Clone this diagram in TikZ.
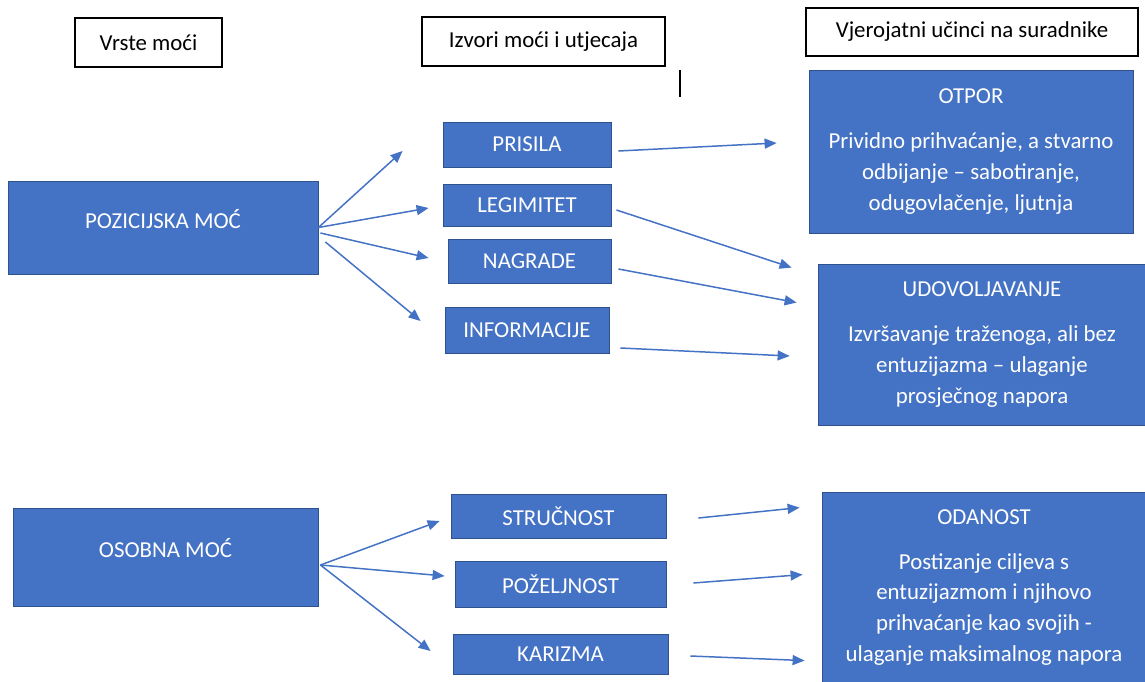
\documentclass[tikz,border=0pt]{standalone}
\usepackage{fontspec}
\setmainfont{Carlito}
\usetikzlibrary{arrows.meta,calc}
\definecolor{boxblue}{HTML}{4472C4}
\definecolor{boxedge}{HTML}{2F528F}
\begin{document}
\begin{tikzpicture}[x=0.02cm,y=-0.02cm,
  font=\fontsize{13}{17.6}\selectfont,
  hdr/.style={draw=black,line width=0.8pt,fill=white,text=black,inner sep=0pt},
  bluebox/.style={draw=boxedge,line width=0.5pt,fill=boxblue,text=white,inner sep=0pt,align=center},
  arr/.style={draw=boxblue,line width=0.85pt,-{Triangle[length=0.24cm,width=0.2cm]}}
]
\useasboundingbox (0,0) rectangle (1145,682);
% headers
\node[hdr,minimum width=2.94cm,minimum height=0.98cm] (vrste) at (148.5,42.5) {Vrste moći};
\node[hdr,minimum width=4.86cm,minimum height=0.98cm] (izvori) at (543.5,41.5) {Izvori moći i utjecaja};
\node[hdr,minimum width=6.64cm,minimum height=0.96cm] (ucinci) at (972,32) {Vjerojatni učinci na suradnike};
\coordinate (vl1) at (680,70);
\coordinate (vl2) at (680,97);
\draw[line width=0.8pt] (vl1) -- (vl2);
% left
\node[bluebox,minimum width=6.2cm,minimum height=1.86cm,text depth=0.36cm] (poz) at (163,227.5) {POZICIJSKA MOĆ};
\node[bluebox,minimum width=6.1cm,minimum height=1.96cm,text depth=0.36cm] (osob) at (165.5,557) {OSOBNA MOĆ};
% middle
\node[bluebox,minimum width=3.36cm,minimum height=0.9cm] (prisila) at (527,144.5) {PRISILA};
\node[bluebox,minimum width=3.36cm,minimum height=0.84cm] (legim) at (527,205) {LEGIMITET};
\node[bluebox,minimum width=3.26cm,minimum height=0.88cm] (nagrade) at (529.5,261) {NAGRADE};
\node[bluebox,minimum width=3.28cm,minimum height=0.92cm] (inform) at (527,330) {INFORMACIJE};
\node[bluebox,minimum width=4.3cm,minimum height=0.88cm] (struc) at (558.5,516) {STRUČNOST};
\node[bluebox,minimum width=4.22cm,minimum height=0.92cm] (pozelj) at (560.5,584) {POŽELJNOST};
\node[bluebox,minimum width=4.3cm,minimum height=0.8cm] (kariz) at (560.5,654) {KARIZMA};
% right
\node[bluebox,minimum width=6.48cm,minimum height=3.26cm] (otpor) at (971,151.5)
  {OTPOR\\[0.28cm]Prividno prihvaćanje, a stvarno\\odbijanje -- sabotiranje,\\odugovlačenje, ljutnja};
\node[bluebox,minimum width=6.56cm,minimum height=3.22cm] (udov) at (982,344.5)
  {UDOVOLJAVANJE\\[0.28cm]Izvršavanje traženoga, ali bez\\entuzijazma -- ulaganje\\prosječnog napora};
\node[bluebox,minimum width=6.48cm,minimum height=3.82cm] (odan) at (984,587.5)
  {ODANOST\\[0.28cm]Postizanje ciljeva s\\entuzijazmom i njihovo\\prihvaćanje kao svojih -\\ulaganje maksimalnog napora};
% arrows from POZICIJSKA MOĆ
\draw[arr] (poz.east) -- ($(prisila.west)+(-40,6.5)$);
\draw[arr] (poz.east) -- ($(legim.west)+(-14,3)$);
\draw[arr] ($(poz.east)+(2,5.5)$) -- ($(nagrade.west)+(-19,-3)$);
\draw[arr] ($(poz.east)+(7,14.5)$) -- ($(inform.west)+(-24,-9)$);
% arrows to effects (top)
\draw[arr] ($(prisila.east)+(7,6.5)$) -- ($(otpor.west)+(-32,-8.5)$);
\draw[arr] ($(legim.east)+(5,5)$) -- ($(udov.north west)+(-26,4)$);
\draw[arr] ($(nagrade.east)+(7,8)$) -- ($(udov.north west)+(-21,39)$);
\draw[arr] ($(inform.east)+(11,18)$) -- ($(udov.west)+(-28,11.5)$);
% arrows from OSOBNA MOĆ
\draw[arr] ($(osob.east)+(2,8)$) -- ($(struc.west)+(-11,5)$);
\draw[arr] ($(osob.east)+(2,8)$) -- ($(pozelj.west)+(-10,-8)$);
\draw[arr] ($(osob.east)+(2,8)$) -- ($(kariz.west)+(-22,-3)$);
% arrows to ODANOST
\draw[arr] ($(struc.east)+(32,2)$) -- ($(odan.north west)+(-22,16)$);
\draw[arr] ($(pozelj.east)+(27,-1)$) -- ($(odan.north west)+(-19,83)$);
\draw[arr] ($(kariz.east)+(22,2)$) -- ($(odan.north west)+(-17,169)$);
\end{tikzpicture}
\end{document}
